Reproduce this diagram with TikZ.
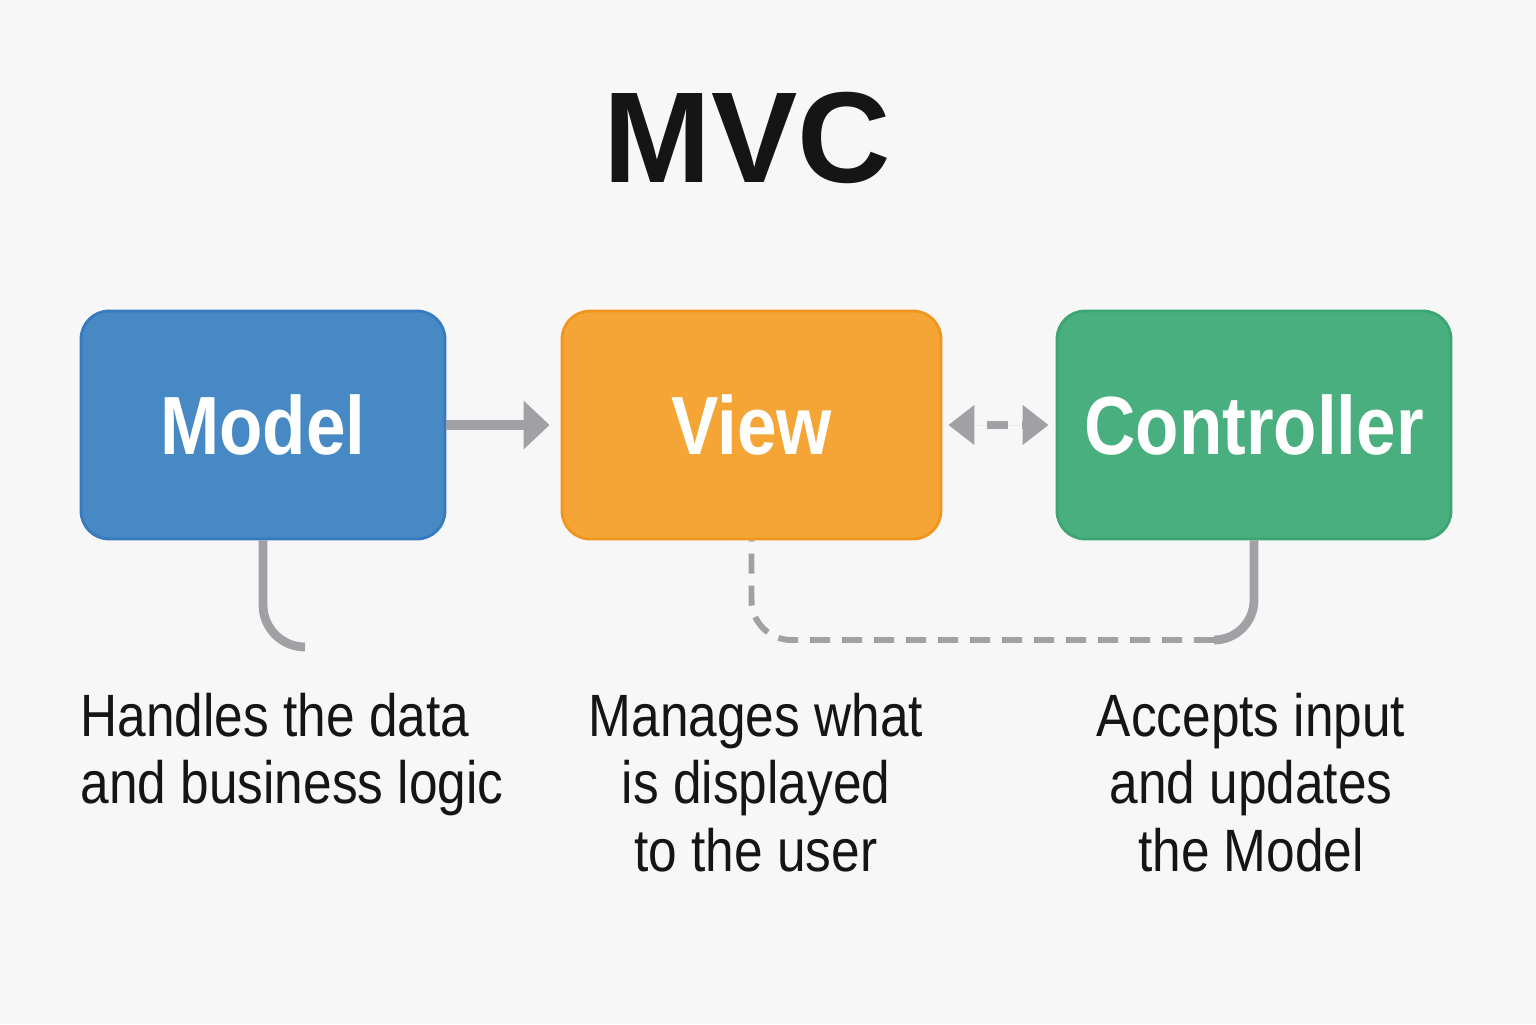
\documentclass[tikz,border=0pt]{standalone}
\usepackage{fontspec}
\setmainfont{Liberation Sans}[FakeStretch=0.86]
\newfontfamily\titlefont{Liberation Sans}
\usetikzlibrary{arrows.meta}
\definecolor{bgGrey}{RGB}{247,247,247}
\definecolor{modelBlue}{RGB}{70,137,197}
\definecolor{modelEdge}{RGB}{55,122,190}
\definecolor{viewOrange}{RGB}{245,165,53}
\definecolor{viewEdge}{RGB}{240,150,30}
\definecolor{ctrlGreen}{RGB}{74,175,127}
\definecolor{ctrlEdge}{RGB}{60,165,115}
\definecolor{linkGrey}{RGB}{160,160,165}
\definecolor{inkBlack}{RGB}{21,21,21}

\begin{document}
\begin{tikzpicture}[
        box/.style={rounded corners=0.28cm, line width=0.8pt, minimum height=2.28cm,
            text=white, font=\fontsize{23.5}{26}\selectfont\bfseries},
        desc/.style={inner sep=0pt, text=inkBlack, font=\fontsize{17}{19.3}\selectfont},
        link/.style={draw=linkGrey, line width=2.5pt},
        dashlink/.style={draw=linkGrey, line width=1.7pt, dash pattern=on 5.7pt off 3.4pt}
    ]

        \fill[bgGrey] (0,0) rectangle (15.36,10.24);

        % title
        \node[anchor=base, inner sep=0pt, text=inkBlack] (title) at (7.475,8.41)
            {\titlefont\bfseries\fontsize{36.8}{40}\selectfont MVC};

        % boxes
        \node[box, fill=modelBlue, draw=modelEdge, minimum width=3.64cm] (model) at (2.63,5.99) {Model};
        \node[box, fill=viewOrange, draw=viewEdge, minimum width=3.79cm] (view) at (7.515,5.99) {View};
        \node[box, fill=ctrlGreen, draw=ctrlEdge, minimum width=3.94cm] (ctrl) at (12.54,5.99) {Controller};

        % arrows between boxes
        \draw[draw=linkGrey, fill=linkGrey, line width=2.8pt, -{Triangle[length=7.4pt, width=13.4pt]},
            shorten >=0.11cm] (model.east) -- (view.west);
        \draw[draw=linkGrey, fill=linkGrey, line width=2pt, dash pattern=on 6pt off 4pt, dash phase=-4pt,
            {Triangle[length=7.4pt, width=10.9pt]}-{Triangle[length=7.4pt, width=10.9pt]},
            shorten <=0.06cm, shorten >=0.07cm] (view.east) -- (ctrl.west);

        % connectors below
        \coordinate (modelEnd) at (3.05,3.77);
        \draw[link, rounded corners=0.42cm] (model.south) |- (modelEnd);

        \coordinate (ctrlTurn) at (12.14,3.84);
        \draw[link, rounded corners=0.4cm] (ctrl.south) |- (ctrlTurn);
        \draw[dashlink, rounded corners=0.4cm] (ctrlTurn) -| (view.south);

        % descriptions
        \node[desc, anchor=north west, align=left] (modelText) at (0.80,3.32)
            {Handles the data\\and business logic};
        \node[desc, anchor=north, align=center] (viewText) at (7.56,3.32)
            {Manages what\\is displayed\\to the user};
        \node[desc, anchor=north, align=center] (ctrlText) at (12.51,3.32)
            {Accepts input\\and updates\\the Model};

    \end{tikzpicture}
\end{document}
